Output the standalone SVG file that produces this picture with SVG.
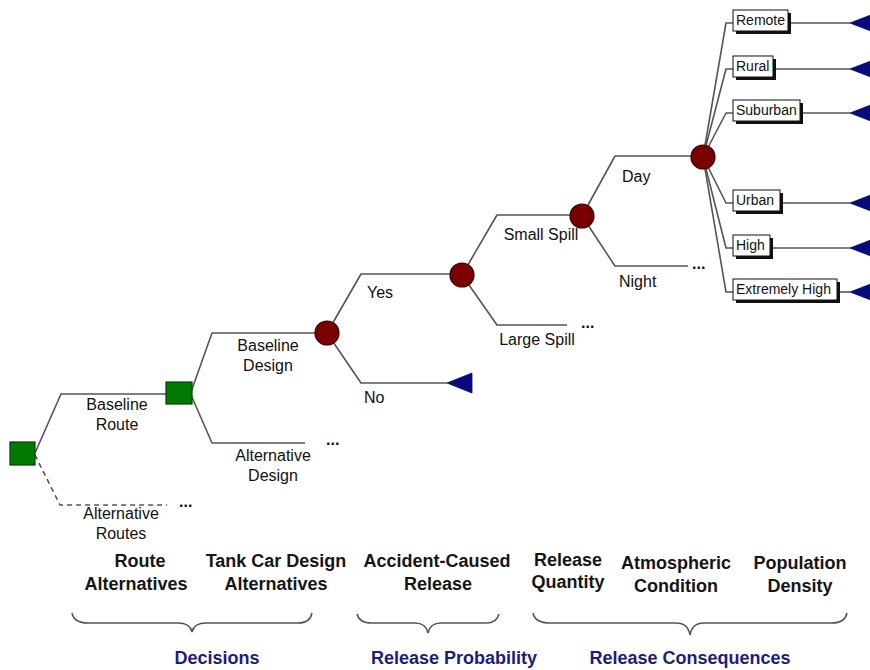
<svg xmlns="http://www.w3.org/2000/svg" width="870" height="670" viewBox="0 0 870 670">
<defs>
<style>
.ln{fill:none;stroke:#555;stroke-width:1.6;stroke-linejoin:round}
.dash{stroke-dasharray:5 4}
.lbl{font-family:"Liberation Sans",Arial,sans-serif;font-size:16px;fill:#111}
.mid{text-anchor:middle}
.dots{font-family:"Liberation Sans",Arial,sans-serif;font-size:16px;font-weight:bold;fill:#111}
.dec{fill:#007a00;stroke:#0a3a0a;stroke-width:1.2}
.chc{fill:#7a0000;stroke:#3a0000;stroke-width:1.2}
.term{fill:#0a0a80;stroke:#0a0a50;stroke-width:0.8}
.box{fill:#fff;stroke:#111;stroke-width:1}
.shd{fill:#111}
.btxt{font-family:"Liberation Sans",Arial,sans-serif;font-size:14px;fill:#111}
.cat{font-family:"Liberation Sans",Arial,sans-serif;font-size:18px;font-weight:bold;fill:#151515;text-anchor:middle}
.grp{font-family:"Liberation Sans",Arial,sans-serif;font-size:18px;font-weight:bold;fill:#1c1c80;text-anchor:middle}
.brace{fill:none;stroke:#555;stroke-width:1.5}
</style>
</defs>
<rect width="870" height="670" fill="#fff"/>

<g id="connectors">
<polyline class="ln" points="35,453 61,394 166,394"/>
<polyline class="ln dash" points="35,455 60,505 167,505"/>
<polyline class="ln" points="191,392 212,333 316,333"/>
<polyline class="ln" points="191,395 212,443 305,443"/>
<polyline class="ln" points="327,333 361,274 462,274"/>
<polyline class="ln" points="327,333 361,383 447,383"/>
<polyline class="ln" points="462,275 497,215 582,215"/>
<polyline class="ln" points="462,275 497,325 567,325"/>
<polyline class="ln" points="582,216 615,156 703,156"/>
<polyline class="ln" points="582,216 615,266 688,266"/>
<polyline class="ln" points="703,157 726,23 733,23"/>
<polyline class="ln" points="703,157 726,69 733,69"/>
<polyline class="ln" points="703,157 726,113 733,113"/>
<polyline class="ln" points="703,157 726,203 733,203"/>
<polyline class="ln" points="703,157 726,248 733,248"/>
<polyline class="ln" points="703,157 726,292 733,292"/>
<line class="ln" x1="791" y1="23" x2="850" y2="23"/>
<line class="ln" x1="776" y1="69" x2="850" y2="69"/>
<line class="ln" x1="803" y1="113" x2="850" y2="113"/>
<line class="ln" x1="783" y1="203" x2="850" y2="203"/>
<line class="ln" x1="773" y1="248" x2="850" y2="248"/>
<line class="ln" x1="840" y1="292" x2="850" y2="292"/>
</g>

<g id="root-decision"><rect class="dec" x="10" y="442" width="25" height="23"/></g>
<g id="design-decision"><rect class="dec" x="166" y="382" width="26" height="22"/></g>
<g id="release-chance"><circle class="chc" cx="327" cy="333" r="12"/></g>
<g id="quantity-chance"><circle class="chc" cx="462" cy="275" r="12"/></g>
<g id="atmos-chance"><circle class="chc" cx="582" cy="216" r="12"/></g>
<g id="density-chance"><circle class="chc" cx="703" cy="157" r="12"/></g>

<g id="no-terminal"><polygon class="term" points="447,383 472,373 472,393"/></g>

<g id="remote"><rect class="shd" x="736" y="13" width="55" height="21"/><rect class="box" x="733" y="10" width="55" height="21"/><text class="btxt" x="736" y="25">Remote</text><polygon class="term" points="850,23 876,13 876,33"/></g>
<g id="rural"><rect class="shd" x="736" y="59" width="40" height="21"/><rect class="box" x="733" y="56" width="40" height="21"/><text class="btxt" x="736" y="71">Rural</text><polygon class="term" points="850,69 876,59 876,79"/></g>
<g id="suburban"><rect class="shd" x="736" y="103" width="67" height="21"/><rect class="box" x="733" y="100" width="67" height="21"/><text class="btxt" x="736" y="115">Suburban</text><polygon class="term" points="850,113 876,103 876,123"/></g>
<g id="urban"><rect class="shd" x="736" y="193" width="47" height="21"/><rect class="box" x="733" y="190" width="47" height="21"/><text class="btxt" x="736" y="205">Urban</text><polygon class="term" points="850,203 876,193 876,213"/></g>
<g id="high"><rect class="shd" x="736" y="238" width="37" height="21"/><rect class="box" x="733" y="235" width="37" height="21"/><text class="btxt" x="736" y="250">High</text><polygon class="term" points="850,248 876,238 876,258"/></g>
<g id="extremely-high"><rect class="shd" x="736" y="282" width="104" height="21"/><rect class="box" x="733" y="279" width="104" height="21"/><text class="btxt" x="736" y="294">Extremely High</text><polygon class="term" points="850,292 876,282 876,302"/></g>

<g id="branch-labels">
<text class="lbl mid" x="117" y="410">Baseline</text>
<text class="lbl mid" x="117" y="430">Route</text>
<text class="lbl mid" x="121" y="519">Alternative</text>
<text class="lbl mid" x="121" y="539">Routes</text>
<text class="lbl mid" x="268" y="351">Baseline</text>
<text class="lbl mid" x="268" y="371">Design</text>
<text class="lbl mid" x="273" y="461">Alternative</text>
<text class="lbl mid" x="273" y="481">Design</text>
<text class="lbl" x="367" y="298">Yes</text>
<text class="lbl" x="364" y="403">No</text>
<text class="lbl mid" x="541" y="240">Small Spill</text>
<text class="lbl mid" x="537" y="345">Large Spill</text>
<text class="lbl" x="622" y="182">Day</text>
<text class="lbl" x="619" y="287">Night</text>
<text class="dots" x="179" y="507">...</text>
<text class="dots" x="326" y="445">...</text>
<text class="dots" x="581" y="328">...</text>
<text class="dots" x="692" y="269">...</text>
</g>

<g id="categories">
<text class="cat" x="140" y="567">Route</text>
<text class="cat" x="136" y="590">Alternatives</text>
<text class="cat" x="276" y="567">Tank Car Design</text>
<text class="cat" x="276" y="590">Alternatives</text>
<text class="cat" x="437" y="567">Accident-Caused</text>
<text class="cat" x="438" y="590">Release</text>
<text class="cat" x="568" y="566">Release</text>
<text class="cat" x="568" y="588">Quantity</text>
<text class="cat" x="676" y="569">Atmospheric</text>
<text class="cat" x="676" y="592">Condition</text>
<text class="cat" x="800" y="569">Population</text>
<text class="cat" x="800" y="592">Density</text>
</g>

<g id="braces">
<path class="brace" d="M72,613 Q74,623 88,623 L178,623 Q190,623 192,632 Q194,623 206,623 L298,623 Q310,623 312,613"/>
<path class="brace" d="M357,614 Q359,623 372,623 L415,623 Q426,623 428,633 Q430,623 441,623 L486,623 Q497,623 499,614"/>
<path class="brace" d="M533,613 Q535,623 550,623 L676,623 Q688,623 690,635 Q692,623 704,623 L832,623 Q845,623 847,613"/>
</g>

<g id="groups">
<text class="grp" x="217" y="664">Decisions</text>
<text class="grp" x="454" y="664">Release Probability</text>
<text class="grp" x="690" y="664">Release Consequences</text>
</g>
</svg>
